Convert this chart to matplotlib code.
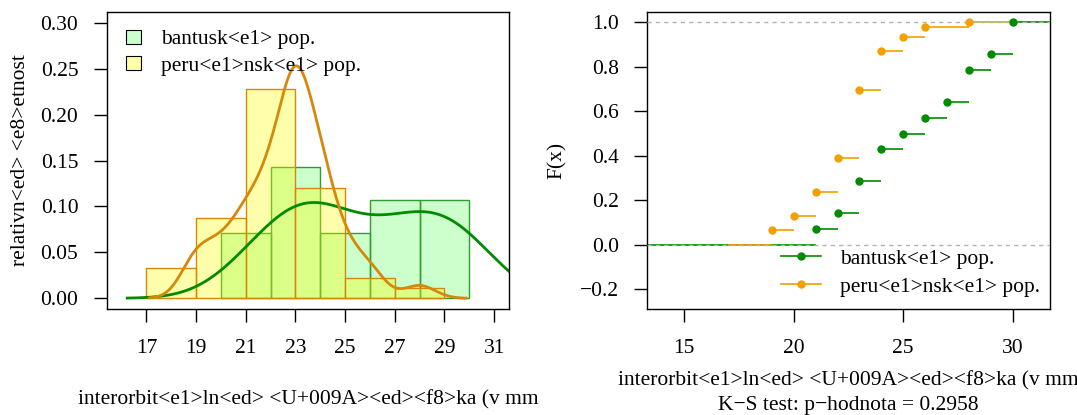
import numpy as np
import matplotlib
matplotlib.use("Agg")
import matplotlib.pyplot as plt
from matplotlib.patches import Patch
from matplotlib.lines import Line2D

plt.rcParams['font.family'] = ['Liberation Serif', 'DejaVu Serif']
plt.rcParams['font.size'] = 15.5
plt.rcParams['axes.unicode_minus'] = True

# observed values (mm) and how many times each occurs
bantu_vals = np.array([21, 22, 23, 24, 25, 26, 27, 28, 29, 30])
bantu_counts = np.array([1, 1, 2, 2, 1, 1, 1, 2, 1, 2])
peru_vals = np.array([19, 20, 21, 22, 23, 24, 25, 26, 28])
peru_counts = np.array([3, 3, 5, 7, 14, 8, 3, 2, 1])

bantu_bins = np.arange(20, 31, 2)
peru_bins = np.arange(17, 30, 2)

lab_bantu = 'bantusk<e1> pop.'
lab_peru = 'peru<e1>nsk<e1> pop.'
xlab = 'interorbit<e1>ln<ed> <U+009A><ed><f8>ka (v mm'
ylab = 'relativn<ed> <e8>etnost'
ks_text = 'K\u2212S test: p\u2212hodnota = 0.2958'

left_xticks = [17, 19, 21, 23, 25, 27, 29, 31]
right_xticks = [15, 20, 25, 30]
left_yticks = [0.0, 0.05, 0.10, 0.15, 0.20, 0.25, 0.30]
right_yticks = [-0.2, 0.0, 0.2, 0.4, 0.6, 0.8, 1.0]

GREEN = '#008B00'
ORANGE_D = '#D4890A'
ORANGE = '#F2A000'


def hist_density(vals, counts, bins):
    # R style right-closed bins
    x = np.repeat(vals, counts)
    idx = np.searchsorted(bins, x, side='left') - 1
    c = np.bincount(idx, minlength=len(bins) - 1)[:len(bins) - 1]
    return c / (len(x) * np.diff(bins))


def kde_nrd0(vals, counts):
    x = np.repeat(vals, counts).astype(float)
    n = len(x)
    q1, q3 = np.percentile(x, [25, 75])
    bw = 0.9 * min(x.std(ddof=1), (q3 - q1) / 1.34) * n ** -0.2
    g = np.linspace(x.min() - 3 * bw, x.max() + 3 * bw, 512)
    d = np.exp(-0.5 * ((g[:, None] - x[None, :]) / bw) ** 2).sum(1)
    return g, d / (n * bw * np.sqrt(2 * np.pi))


def ecdf(vals, counts):
    return np.cumsum(counts) / counts.sum()


fig = plt.figure(figsize=(10.77, 4.15), dpi=100)
ax1 = fig.add_axes([0.0991, 0.2547, 0.3735, 0.7171])
ax2 = fig.add_axes([0.601, 0.2547, 0.3736, 0.7171])

# ---- left: histograms + densities
hb = hist_density(bantu_vals, bantu_counts, bantu_bins)
hp = hist_density(peru_vals, peru_counts, peru_bins)
ax1.bar(bantu_bins[:-1], hb, width=2, align='edge', color=(0, 1, 0, 0.2),
        edgecolor='#2E9E2E', linewidth=1.0)
ax1.bar(peru_bins[:-1], hp, width=2, align='edge', color=(1, 1, 0, 0.33),
        edgecolor=ORANGE_D, linewidth=1.0)
g, d = kde_nrd0(bantu_vals, bantu_counts)
ax1.plot(g, d, color=GREEN, lw=2.0)
g, d = kde_nrd0(peru_vals, peru_counts)
ax1.plot(g, d, color=ORANGE_D, lw=2.0)

ax1.set_xlim(15.4, 31.6)
ax1.set_ylim(-0.012, 0.312)
ax1.set_xticks(left_xticks)
ax1.set_yticks(left_yticks)
ax1.set_yticklabels(['%.2f' % v for v in left_yticks])
ax1.set_ylabel(ylab)
ax1.yaxis.set_label_coords(-0.19, 0.5)
ax1.text(0.5, -0.305, xlab, transform=ax1.transAxes, ha='center', va='center')
h1 = [Patch(facecolor='#CCFFCC', edgecolor='black', lw=0.8),
      Patch(facecolor='#FFFFAA', edgecolor='black', lw=0.8)]
ax1.legend(h1, [lab_bantu, lab_peru], loc='upper left', bbox_to_anchor=(0.048, 0.94),
           frameon=False, borderpad=0, borderaxespad=0, handlelength=0.7,
           handleheight=0.65, handletextpad=0.93, labelspacing=0.3)

# ---- right: empirical CDFs
fb = ecdf(bantu_vals, bantu_counts)
fp = ecdf(peru_vals, peru_counts)
xl = (13.32, 31.68)

ax2.hlines(0, xl[0], bantu_vals[0], color=GREEN, lw=1.2)
ax2.hlines(fb[:-1], bantu_vals[:-1], bantu_vals[1:], color=GREEN, lw=1.2)
ax2.hlines(1, bantu_vals[-1], xl[1], color=GREEN, lw=1.2)
ax2.plot(bantu_vals, fb, 'o', color=GREEN, ms=5, zorder=4)

ax2.hlines(0, 17, peru_vals[0], color=ORANGE, lw=1.2)
ax2.hlines(fp[:-1], peru_vals[:-1], peru_vals[1:], color=ORANGE, lw=1.2)
ax2.hlines(1, peru_vals[-1], 30, color=ORANGE, lw=1.2)
ax2.plot(peru_vals, fp, 'o', color=ORANGE, ms=5, zorder=4)

for yy in (0, 1):
    ax2.axhline(yy, color='#B3B3B3', lw=1.0, ls=(0, (3, 3)), zorder=3)

ax2.set_xlim(*xl)
ax2.set_ylim(-0.29, 1.048)
ax2.set_xticks(right_xticks)
ax2.set_yticks(right_yticks)
ax2.set_yticklabels([('%.1f' % v).replace('-', '\u2212') for v in right_yticks])
ax2.set_ylabel('F(x)')
ax2.yaxis.set_label_coords(-0.2, 0.5)
ax2.text(0.5, -0.241, xlab, transform=ax2.transAxes, ha='center', va='center')
ax2.text(0.5, -0.322, ks_text, transform=ax2.transAxes, ha='center', va='center')
h2 = [Line2D([], [], color=GREEN, marker='o', ms=5, lw=1.2),
      Line2D([], [], color=ORANGE, marker='o', ms=5, lw=1.2)]
ax2.legend(h2, [lab_bantu, lab_peru], loc='upper left', bbox_to_anchor=(0.332, 0.203),
           frameon=False, borderpad=0, borderaxespad=0, handlelength=1.86,
           handletextpad=0.88, labelspacing=0.36, numpoints=1)

for ax in (ax1, ax2):
    ax.tick_params(length=9.5, width=1.0, pad=11)
    ax.tick_params(axis='x', pad=12)
    for s in ax.spines.values():
        s.set_linewidth(1.0)

fig.savefig('out.png', dpi=100)
